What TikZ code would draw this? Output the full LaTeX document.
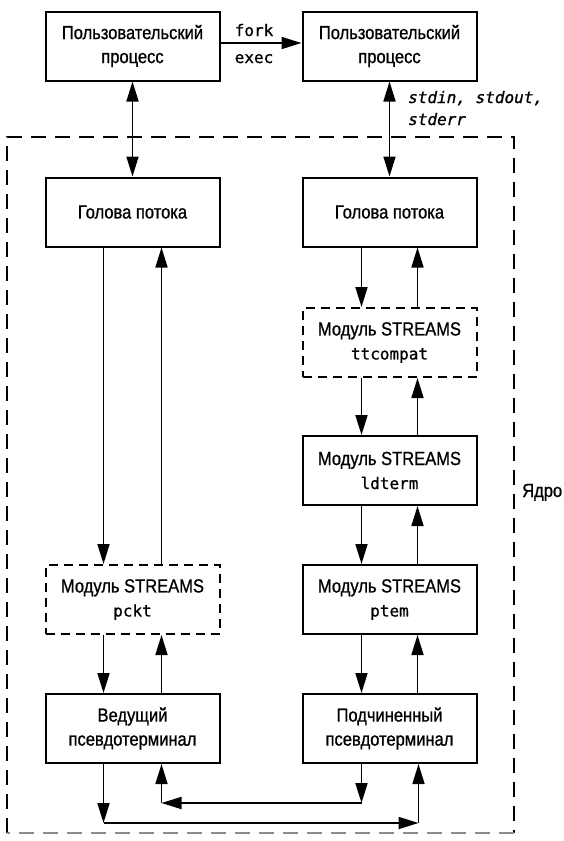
\documentclass[tikz,border=0pt]{standalone}
\usepackage{fontspec}
\setmainfont[FakeStretch=0.87, FakeBold=0.9]{Liberation Sans}
\newfontfamily\monofont[FakeBold=0.9]{DejaVu Sans Mono}
\usetikzlibrary{arrows.meta}
\newcommand{\mt}[1]{{\monofont\fontsize{16}{24}\selectfont #1}}
\begin{document}
\begin{tikzpicture}[x=1pt, y={(0pt,-1pt)},
  box/.style={draw, line width=2pt, minimum width=174pt, minimum height=69pt,
    inner sep=0pt, align=center, font=\fontsize{19}{24}\selectfont},
  dbox/.style={box, dash pattern=on 9pt off 6pt},
  arr/.style={line width=1.7pt, -{Triangle[length=20pt,width=12pt]}},
  darr/.style={line width=1.7pt, {Triangle[length=20pt,width=12pt]}-{Triangle[length=20pt,width=12pt]}},
  lbl/.style={inner sep=0pt, font=\fontsize{19}{24}\selectfont},
  mlbl/.style={inner sep=0pt, font=\monofont\fontsize{16}{24}\selectfont},
  outer/.style={line width=1.7pt, dash pattern=on 15pt off 9pt}]
\useasboundingbox (0,0) rectangle (563,841);

% kernel boundary
\coordinate (k1) at (7,833);
\coordinate (k2) at (7,137);
\coordinate (k3) at (514,137);
\coordinate (k4) at (514,833);
\draw[outer] (k1) -- (k2) -- (k3) -- (k4);
\draw[outer, black!45] (k4) -- (k1);
\node[lbl, anchor=base west] (core) at (522,497) {Ядро};

% boxes
\node[box] (u1) at (132.5,46) {Пользовательский\\процесс};
\node[box] (u2) at (389.5,46) {Пользовательский\\процесс};
\node[box] (h1) at (132.5,212) {Голова потока};
\node[box] (h2) at (389.5,212) {Голова потока};
\node[dbox] (tt) at (389.5,342.5) {Модуль STREAMS\\\mt{ttcompat}};
\node[box] (ld) at (389.5,470.5) {Модуль STREAMS\\\mt{ldterm}};
\node[dbox] (pk) at (132.5,599.5) {Модуль STREAMS\\\mt{pckt}};
\node[box] (pt) at (389.5,599.5) {Модуль STREAMS\\\mt{ptem}};
\node[box] (ve) at (132.5,728.5) {Ведущий\\псевдотерминал};
\node[box] (po) at (389.5,728.5) {Подчиненный\\псевдотерминал};

% top
\draw[arr] ([yshift=3pt]u1.east) -- ([yshift=3pt]u2.west);
\node[mlbl, anchor=base] (fork) at (254,36) {fork};
\node[mlbl, anchor=base] (exec) at (254,63) {exec};
\draw[darr] (u1.south) -- (h1.north);
\draw[darr] (u2.south) -- (h2.north);
\node[mlbl, anchor=base west, font=\monofont\itshape\fontsize{16}{24}\selectfont] (std1) at (408,103) {stdin, stdout,};
\node[mlbl, anchor=base west, font=\monofont\itshape\fontsize{16}{24}\selectfont] (std2) at (408,125) {stderr};

% left column
\draw[arr] ([xshift=-29pt]h1.south) -- ([xshift=-29pt]pk.north);
\draw[arr] ([xshift=29pt]pk.north) -- ([xshift=29pt]h1.south);
\draw[arr] ([xshift=-29pt]pk.south) -- ([xshift=-29pt]ve.north);
\draw[arr] ([xshift=29pt]ve.north) -- ([xshift=29pt]pk.south);

% right column
\draw[arr] ([xshift=-28pt]h2.south) -- ([xshift=-28pt]tt.north);
\draw[arr] ([xshift=28pt]tt.north) -- ([xshift=28pt]h2.south);
\draw[arr] ([xshift=-28pt]tt.south) -- ([xshift=-28pt]ld.north);
\draw[arr] ([xshift=28pt]ld.north) -- ([xshift=28pt]tt.south);
\draw[arr] ([xshift=-28pt]ld.south) -- ([xshift=-28pt]pt.north);
\draw[arr] ([xshift=28pt]pt.north) -- ([xshift=28pt]ld.south);
\draw[arr] ([xshift=-28pt]pt.south) -- ([xshift=-28pt]po.north);
\draw[arr] ([xshift=28pt]po.north) -- ([xshift=28pt]pt.south);

% bottom cross connections
\coordinate (b1) at (103.5,823);
\coordinate (b2) at (418.5,823);
\draw[arr] ([xshift=-29pt]ve.south) -- (b1);
\draw[arr] (b1) -- (b2);
\draw[arr] (b2) -- ([xshift=29pt]po.south);
\coordinate (c1) at (361.5,803);
\coordinate (c2) at (161.5,803);
\draw[arr] ([xshift=-28pt]po.south) -- (c1);
\draw[arr] (c1) -- (c2);
\draw[arr] (c2) -- ([xshift=29pt]ve.south);
\end{tikzpicture}
\end{document}
